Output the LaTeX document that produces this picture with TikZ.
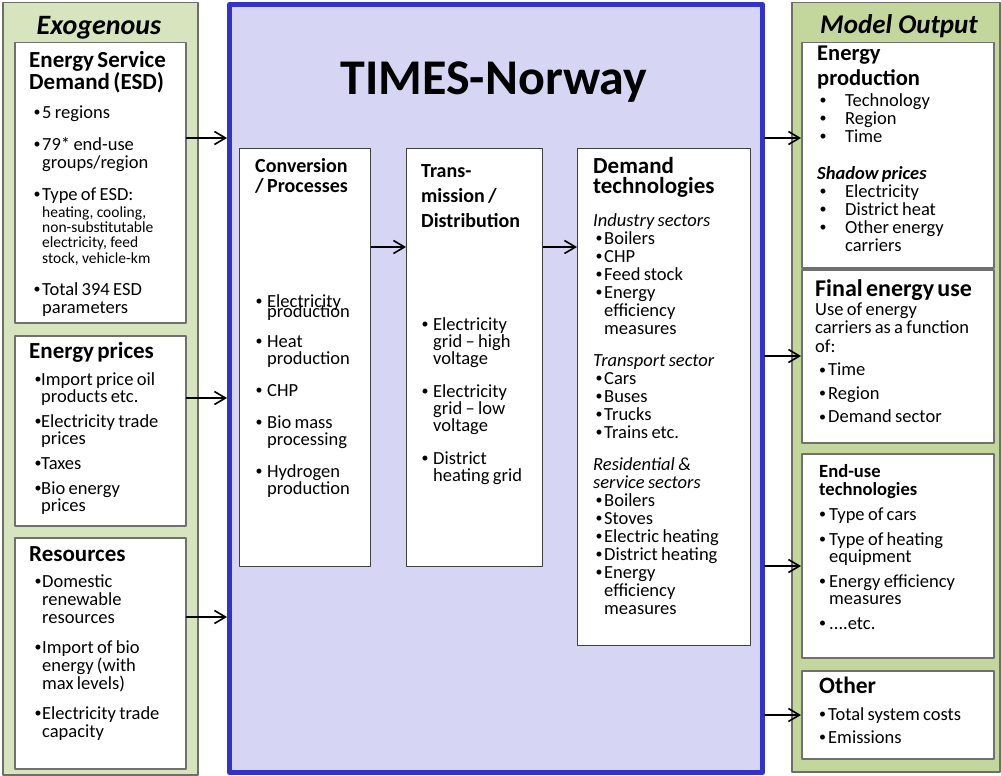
\documentclass[tikz,border=0pt]{standalone}
\usepackage{fontspec}
\setmainfont{Carlito}
\usepackage{tikz}
\usetikzlibrary{positioning,calc,arrows.meta}

\definecolor{exofill}{HTML}{D7E4BD}
\definecolor{outfill}{HTML}{C3D69B}
\definecolor{timesfill}{HTML}{D6D6F4}
\definecolor{timesline}{HTML}{3333CC}
\definecolor{panelline}{HTML}{6E6E6E}
\definecolor{boxline}{HTML}{707070}

% bullet indent / text indent inside a box
\newlength{\bui}
\newlength{\txi}
\newcommand{\nl}{\unskip\hfil\break}
\newcommand{\boxset}[4]{\fontsize{18.5pt}{#1pt}\selectfont\setlength{\parskip}{#2}\setlength{\bui}{#3}\setlength{\txi}{#4}}
\newcommand{\hd}[3][23]{{\fontsize{#1pt}{#2pt}\selectfont\bfseries\rule{0pt}{0.8em}#3\par}}
\newcommand{\dotb}{\raisebox{1.5pt}{\fontsize{14pt}{14pt}\selectfont\textbullet}}
\newcommand{\itm}[1]{\par\noindent\hangindent=\txi\hangafter=1\hspace*{\bui}\makebox[\dimexpr\txi-\bui\relax][l]{\dotb}#1\par}
\newcommand{\subhd}[1]{\par\noindent\textit{#1}\par}

\begin{document}
\begin{tikzpicture}[x=1pt, y=-1pt, line join=round,
	panel/.style={draw=panelline, line width=1.5pt, anchor=north west, inner sep=0pt},
	wbox/.style={draw=boxline, fill=white, line width=1.5pt, anchor=north west, inner sep=0pt},
	ibox/.style={draw=black!75, fill=white, line width=1.3pt, anchor=north west, inner sep=0pt},
	txt/.style={anchor=north west, inner sep=0pt, align=left, text width=#1},
	ttl/.style={anchor=base, inner sep=0pt},
	arr/.style={-{Straight Barb[length=11pt,width=13pt]}, line width=1.6pt, line cap=round}]
	
	% ---- canvas
	\useasboundingbox (0,0) rectangle (1001,776);
	
	% ---- three columns
	\node[panel, fill=exofill, minimum width=195pt, minimum height=772pt] (exo) at (2,2) {};
	\node[panel, draw=timesline, fill=timesfill, line width=5pt,
		minimum width=533pt, minimum height=768pt] (times) at (227,2) {};
	\node[panel, fill=outfill, minimum width=208pt, minimum height=769pt] (out) at (791,2) {};
	
	% ---- titles
	\node[ttl, font=\fontsize{28pt}{28pt}\selectfont\bfseries\itshape] (exottl) at (99,35) {Exogenous};
	\node[ttl, font=\fontsize{27pt}{27pt}\selectfont\bfseries\itshape] (outttl) at (899,34) {Model Output};
	\node[ttl, font=\fontsize{50pt}{50pt}\selectfont\bfseries] (timesttl) at (494,95) {TIMES-Norway};
	
	% ---- exogenous boxes
	\node[wbox, minimum width=171pt, minimum height=280pt] (esd) at (14,42) {};
	\node[wbox, minimum width=171pt, minimum height=190pt] (prices) at (14,335) {};
	\node[wbox, minimum width=171pt, minimum height=231pt] (res) at (14,537) {};
	
	\node[txt=152pt] (esdtxt) at (29,48.6) {\boxset{18}{14pt}{4.5pt}{13pt}%
		\hd{22}{Energy Service\nl Demand (ESD)}\vspace{-3pt}%
		\itm{5 regions}%
		\itm{79* end-use\nl groups/region}%
		\itm{Type of ESD:}%
		{\parskip=0pt\fontsize{15.5pt}{15.3pt}\selectfont\vspace{1.7pt}\noindent\hangindent=\txi\hangafter=0
			heating, cooling,\nl non-substitutable\nl electricity, feed\nl stock, vehicle-km\par}%
		\itm{Total 394 ESD\nl parameters}};
	
	\node[txt=152pt] (pricestxt) at (29,339.6) {\boxset{17}{8pt}{5.5pt}{12pt}%
		\hd{22}{Energy prices}\vspace{2pt}%
		\itm{Import price oil\nl products etc.}%
		\itm{Electricity trade\nl prices}%
		\itm{Taxes}%
		\itm{Bio energy\nl prices}};
	
	\node[txt=152pt] (restxt) at (29,542.6) {\boxset{18}{12pt}{5.5pt}{13pt}%
		\hd{22}{Resources}\vspace{-4pt}%
		\itm{Domestic\nl renewable\nl resources}%
		\itm{Import of bio\nl energy (with\nl max levels)}%
		\itm{Electricity trade\nl capacity}};
	
	% ---- model boxes
	\node[ibox, minimum width=131pt, minimum height=418pt] (conv) at (239,148) {};
	\node[ibox, minimum width=136pt, minimum height=418pt] (trans) at (406,148) {};
	\node[ibox, minimum width=173pt, minimum height=497pt] (dem) at (577,148) {};
	
	\node[txt=112pt] (convtxt) at (255,156) {\boxset{17}{15pt}{0.5pt}{12pt}%
		\hd[20]{20}{Conversion\nl / Processes}\vspace{90pt}%
		{\baselineskip=10pt\lineskiplimit=-50pt\itm{Electricity\nl production}}\vspace{-2pt}%
		\itm{Heat\nl production}%
		\itm{CHP}%
		\itm{Bio mass\nl processing}%
		\itm{Hydrogen\nl production}};
	
	\node[txt=118pt] (transtxt) at (421,161) {\boxset{17}{16pt}{0.5pt}{12pt}%
		\hd[20]{25}{Trans-\nl mission /\nl Distribution}\vspace{70pt}%
		\itm{Electricity\nl grid – high\nl voltage}%
		\itm{Electricity\nl grid – low\nl voltage}%
		\itm{District\nl heating grid}};
	
	\node[txt=155pt] (demtxt) at (593,154.6) {\boxset{18}{0pt}{2.5pt}{11pt}%
		\hd[23]{20.5}{Demand\nl technologies}\vspace{14.5pt}%
		\subhd{Industry sectors}%
		\itm{Boilers}\itm{CHP}\itm{Feed stock}\itm{Energy\nl efficiency\nl measures}%
		\vspace{14pt}\subhd{Transport sector}%
		\itm{Cars}\itm{Buses}\itm{Trucks}\itm{Trains etc.}%
		\vspace{14pt}\subhd{Residential \&\nl service sectors}%
		\itm{Boilers}\itm{Stoves}\itm{Electric heating}\itm{District heating}\itm{Energy\nl efficiency\nl measures}};
	
	% ---- output boxes
	\node[wbox, minimum width=192pt, minimum height=225pt] (prod) at (801,42) {};
	\node[wbox, minimum width=192pt, minimum height=173pt] (final) at (801,269) {};
	\node[wbox, minimum width=192pt, minimum height=204pt] (enduse) at (801,453) {};
	\node[wbox, minimum width=192pt, minimum height=88pt] (other) at (801,670) {};
	
	\node[txt=172pt] (prodtxt) at (817,42) {\boxset{18}{0pt}{2.5pt}{28pt}%
		\hd[22.5]{25}{Energy\nl production}\vspace{3pt}%
		\itm{Technology}\itm{Region}\itm{Time}%
		\vspace{19pt}\par\noindent\textbf{\textit{Shadow prices}}\par
		\itm{Electricity}\itm{District heat}\itm{Other energy\nl carriers}};
	
	\node[txt=176pt] (finaltxt) at (815,276.8) {\boxset{18.5}{5pt}{4pt}{13pt}%
		\hd[24]{24}{Final energy use}\vspace{-4.5pt}%
		\par\noindent Use of energy\nl carriers as a function\nl of:\par
		\itm{Time}\itm{Region}\itm{Demand sector}};
	
	\node[txt=172pt] (endtxt) at (819,462.1) {\boxset{17}{8pt}{0pt}{10pt}%
		\hd[18.6]{18}{End-use\nl technologies}%
		\itm{Type of cars}\itm{Type of heating\nl equipment}\itm{Energy efficiency\nl measures}\itm{....etc.}};
	
	\node[txt=172pt] (othertxt) at (819,674.2) {\boxset{18}{5pt}{0pt}{9pt}%
		\hd[23.5]{23}{Other}\vspace{4pt}%
		\itm{Total system costs}\itm{Emissions}};
	
	% ---- arrows in
	\foreach \src/\yy in {esd/138, prices/398, res/617}
		\draw[arr] (\src.east |- 0,\yy) -- (times.west |- 0,\yy);
	
	% ---- arrows inside the model
	\draw[arr] (conv.east |- 0,247) -- (trans.west |- 0,247);
	\draw[arr] (trans.east |- 0,247) -- (dem.west |- 0,247);
	
	% ---- arrows out
	\foreach \dst/\yy in {prod/138, final/356, enduse/566, other/715}
		\draw[arr] (times.east |- 0,\yy) -- (\dst.west |- 0,\yy);
	
\end{tikzpicture}
\end{document}
